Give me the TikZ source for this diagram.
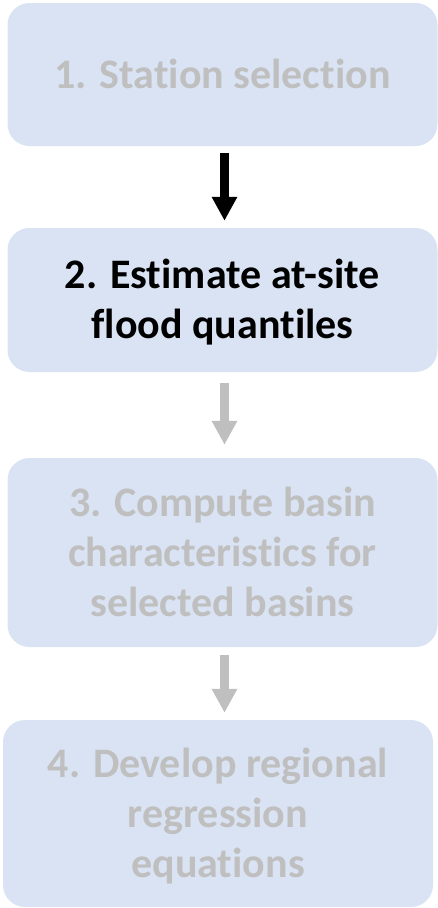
\documentclass[tikz,border=0pt]{standalone}
\usepackage{fontspec}
\setmainfont{Carlito}[Ligatures=NoCommon]
\usepackage{xcolor}
\usetikzlibrary{arrows.meta}

\definecolor{boxfill}{HTML}{DAE3F3}
\definecolor{fadedtext}{HTML}{BFBFBF}

% keep the text block centred on its baselines
\newcommand{\tstrut}{\rule{0pt}{39pt}}
\newcommand{\bstrut}{\rule[-12pt]{0pt}{12pt}}

\begin{document}
\begin{tikzpicture}[x=1pt, y=-1pt,
    stepbox/.style  = {fill=boxfill, rounded corners=22pt, inner sep=0pt,
                       align=center, font=\fontsize{42}{50}\selectfont\bfseries},
    doneflow/.style = {line width=9pt, black, -{Triangle[width=24pt,length=24pt]}},
    nextflow/.style = {line width=9pt, fadedtext, -{Triangle[width=24pt,length=24pt]}}]
        \useasboundingbox  (0,0) rectangle (438,908);

        \node [stepbox, minimum width=430pt, minimum height=143pt, text=fadedtext]
              (station)  at (222.5,74.5)  {\tstrut\bstrut 1. Station selection};
        \node [stepbox, minimum width=430pt, minimum height=144pt, text=black]
              (quantile) at (222.5,300)   {\tstrut 2. Estimate at-site\\flood quantiles\bstrut};
        \node [stepbox, minimum width=430pt, minimum height=189pt, text=fadedtext]
              (basin)    at (222.5,552.5) {\tstrut 3. Compute basin\\characteristics for\\selected basins\bstrut};
        \node [stepbox, minimum width=430pt, minimum height=187pt, text=fadedtext]
              (regress)  at (218,813.5)   {\tstrut 4. Develop regional\\regression\\equations\bstrut};

        \coordinate (axis) at (224.5,0);

        \draw [doneflow, shorten <=7pt,  shorten >=7pt]  (station.south -| axis)  -- (quantile.north -| axis);
        \draw [nextflow, shorten <=11pt, shorten >=13pt] (quantile.south -| axis) -- (basin.north -| axis);
        \draw [nextflow, shorten <=8pt,  shorten >=7pt]  (basin.south -| axis)    -- (regress.north -| axis);
      \end{tikzpicture}
\end{document}
